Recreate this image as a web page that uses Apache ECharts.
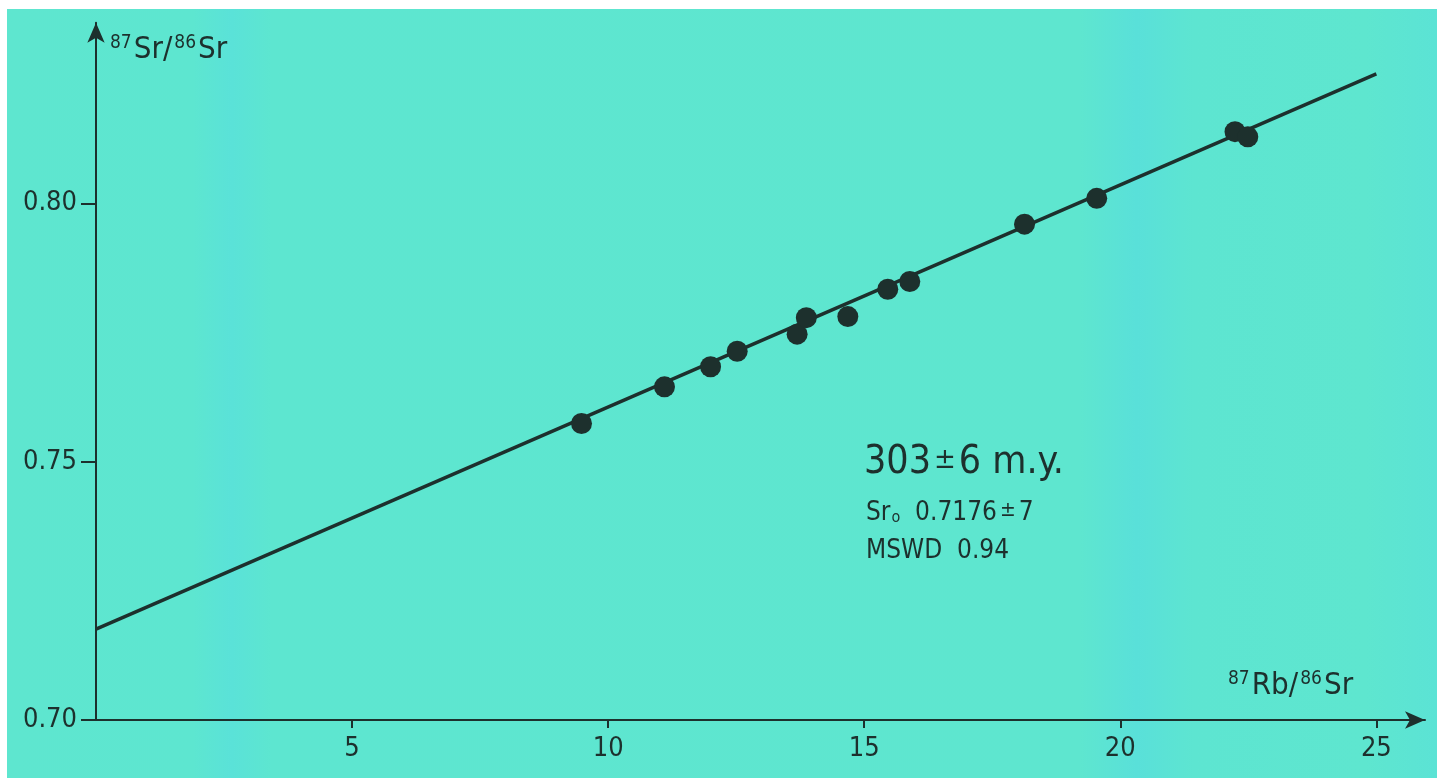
<!DOCTYPE html>
<html>
<head>
<meta charset="utf-8">
<script src="https://cdn.jsdelivr.net/npm/echarts@6/dist/echarts.min.js"></script>
<style>
  html, body { margin: 0; padding: 0; background: #ffffff; width: 1437px; height: 778px; overflow: hidden; }
  #chart { position: absolute; left: 7px; top: 9px; width: 1430px; height: 769px; }
</style>
</head>
<body>
<div id="chart"></div>
<script>
// Sample data: 87Rb/86Sr (x) and 87Sr/86Sr (y)
const rbSr = [9.48, 11.10, 12.00, 12.52, 13.69, 13.87, 14.68, 15.46, 15.89, 18.13, 19.54, 22.24, 22.49];
const srSr = [0.7574, 0.7645, 0.7684, 0.7714, 0.7747, 0.7779, 0.7781, 0.7834, 0.7849, 0.7960, 0.8010, 0.8139, 0.8129];
// Isochron end points
const isoX = [0, 25];
const isoY = [0.7176, 0.8251];
// Tick labels
const xTicks = [5, 10, 15, 20, 25];
const yTicks = [0.70, 0.75, 0.80];

const ink = '#1d302d';
const font = 'DejaVu Sans Condensed';

const bg = {
  type: 'linear', x: 0, y: 0, x2: 1, y2: 0,
  colorStops: [
    { offset: 0.00, color: '#5ee6cf' },
    { offset: 0.13, color: '#5de6d0' },
    { offset: 0.157, color: '#5ae2d8' },
    { offset: 0.185, color: '#5de6d0' },
    { offset: 0.75, color: '#5ee6cf' },
    { offset: 0.79, color: '#59e0d9' },
    { offset: 0.83, color: '#5de5d1' },
    { offset: 0.95, color: '#5ee6cf' },
    { offset: 1.00, color: '#5be3d5' }
  ]
};

const chart = echarts.init(document.getElementById('chart'), null, { renderer: 'canvas' });
chart.setOption({
  backgroundColor: bg,
  animation: false,
  grid: { left: 89, right: 12, top: 13.7, bottom: 58, containLabel: false },
  xAxis: {
    type: 'value', min: 0, max: 25.95, interval: 5,
    axisLine: { show: true, symbol: ['none', 'arrow'], symbolSize: [13, 20], symbolOffset: [0, 0],
      lineStyle: { color: ink, width: 2 } },
    axisTick: { show: true, customValues: xTicks, length: 8, inside: false, lineStyle: { color: ink, width: 2 } },
    axisLabel: { show: true, customValues: xTicks, margin: 15, color: ink, fontFamily: font, fontSize: 27 },
    splitLine: { show: false }
  },
  yAxis: {
    type: 'value', min: 0.70, max: 0.835, interval: 0.05,
    axisLine: { show: true, symbol: ['none', 'arrow'], symbolSize: [13, 20], lineStyle: { color: ink, width: 2 } },
    axisTick: { show: true, customValues: yTicks, length: 15, lineStyle: { color: ink, width: 2 } },
    axisLabel: { show: true, customValues: yTicks, margin: 19, color: ink, fontFamily: font, fontSize: 27,
      formatter: v => v.toFixed(2) },
    splitLine: { show: false }
  },
  graphic: [
    { type: 'text', left: 103, top: 25,
      style: { rich: {
        sup: { fontSize: 19, fontFamily: font, fill: ink, padding: [0, 2, 12, 0] },
        n: { fontSize: 31, fontFamily: font, fill: ink, padding: [0, 2, 0, 0] }
      }, text: '{sup|87}{n|Sr/}{sup|86}{n|Sr}' } },
    { type: 'text', left: 1221, top: 661,
      style: { rich: {
        sup: { fontSize: 19, fontFamily: font, fill: ink, padding: [0, 2, 12, 0] },
        n: { fontSize: 31, fontFamily: font, fill: ink, padding: [0, 2, 0, 0] }
      }, text: '{sup|87}{n|Rb/}{sup|86}{n|Sr}' } },
    { type: 'text', left: 857, top: 434,
      style: { rich: {
        big: { fontSize: 39, fontFamily: font, fill: ink },
        pm: { fontSize: 29, fontFamily: font, fill: ink, padding: [0, 3, 4, 3] }
      }, text: '{big|303}{pm|±}{big|6 m.y.}' } },
    { type: 'text', left: 859, top: 491,
      style: { rich: {
        n: { fontSize: 26, fontFamily: font, fill: ink },
        pm: { fontSize: 21, fontFamily: font, fill: ink, padding: [0, 3, 4, 3] },
        sub: { fontSize: 16, fontFamily: font, fill: ink, padding: [10, 0, 0, 1] }
      }, text: '{n|Sr}{sub|o}{n|  0.7176}{pm|±}{n|7}' } },
    { type: 'text', left: 859, top: 529,
      style: { text: 'MSWD  0.94', fontSize: 26, fontFamily: font, fill: ink } }
  ],
  series: [
    {
      type: 'line',
      data: isoX.map((x, i) => [x, isoY[i]]),
      symbol: 'none',
      lineStyle: { color: ink, width: 3.5 },
      z: 2
    },
    {
      type: 'scatter',
      data: rbSr.map((x, i) => [x, srSr[i]]),
      symbol: 'circle',
      symbolSize: 21,
      itemStyle: { color: ink, opacity: 1 },
      z: 3
    }
  ]
});
</script>
</body>
</html>
